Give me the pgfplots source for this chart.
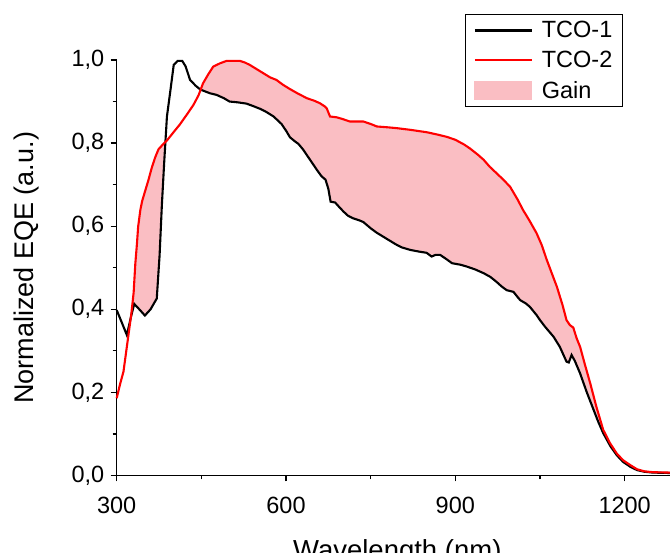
\documentclass[border=0pt]{standalone}
\usepackage{fontspec}
\setmainfont{Liberation Sans}
\usepackage{pgfplots}
\pgfplotsset{compat=1.18}
\usepgfplotslibrary{fillbetween}
\definecolor{gainpink}{RGB}{250,190,195}

\begin{document}
\begin{tikzpicture}
\begin{axis}[
  at={(0,0)}, anchor=south west,
  scale only axis, width=553.1bp, height=415.5bp,
  xmin=300, xmax=1280, ymin=0, ymax=1,
  axis x line*=bottom, axis y line*=left,
  xtick={300,600,900,1200}, ytick={0,0.2,0.4,0.6,0.8,1.0}, minor tick num=1,
  tick align=outside,
  major tick length=6bp, minor tick length=4bp,
  every tick/.style={black, line width=1.2bp},
  axis line style={line width=1.3bp},
  clip=false,
  /pgf/number format/assume math mode=true,
  ticklabel style={font=\fontsize{23.5bp}{27bp}\selectfont},
  x tick label style={/pgf/number format/1000 sep={}, yshift=-12bp},
  y tick label style={/pgf/number format/use comma, /pgf/number format/fixed, /pgf/number format/fixed zerofill, /pgf/number format/precision=1, xshift=-3bp},
  xlabel={Wavelength (nm)},
  xlabel style={at={(axis description cs:0.5073,-0.201)}, anchor=base, font=\fontsize{27.5bp}{32bp}\selectfont},
  ylabel={Normalized EQE (a.u.)},
  ylabel style={at={(axis description cs:-0.1513,0.5)}, anchor=base, font=\fontsize{27bp}{32bp}\selectfont},
  legend style={at={(axis description cs:0.9153,1.111)}, anchor=north east, draw=black, line width=1.2bp,
    font=\fontsize{23.5bp}{28bp}\selectfont, inner xsep=8bp, inner ysep=5bp, row sep=8bp, column sep=7bp},
  legend cell align=left,
  legend image code/.code={\draw[#1, line width=2.2bp] (0bp,0bp) -- (57bp,0bp);},
]
\addplot[black, line width=2.1bp, name path=A] table {
300 0.398
310 0.365
318 0.338
325 0.38
331 0.413
340 0.40
350 0.385
360 0.40
371 0.426
376 0.53
380 0.65
384 0.75
389 0.864
395 0.925
401 0.988
408 0.998
416 0.998
422 0.985
430 0.952
440 0.938
448 0.929
465 0.92
477 0.916
490 0.908
500 0.90
515 0.898
530 0.895
542 0.889
555 0.882
565 0.875
578 0.864
592 0.846
600 0.83
607 0.814
615 0.805
622 0.798
630 0.785
637 0.771
645 0.755
655 0.735
663 0.72
670 0.712
675 0.69
679 0.659
687 0.657
695 0.645
702 0.635
710 0.625
719 0.619
730 0.614
737 0.61
750 0.595
761 0.584
772 0.575
784 0.565
795 0.556
805 0.549
820 0.543
835 0.539
849 0.536
858 0.527
865 0.531
873 0.531
885 0.52
894 0.511
910 0.507
920 0.503
935 0.496
950 0.487
962 0.478
973 0.466
982 0.455
991 0.446
1003 0.442
1010 0.43
1015 0.422
1025 0.414
1032 0.406
1044 0.386
1050 0.374
1059 0.358
1074 0.334
1085 0.31
1097 0.274
1101 0.272
1106 0.29
1112 0.275
1121 0.246
1133 0.20
1145 0.158
1153 0.13
1162 0.102
1175 0.07
1186 0.049
1197 0.033
1210 0.021
1222 0.013
1235 0.009
1250 0.007
1280 0.006
};
\addlegendentry{TCO-1}
\addplot[red, line width=2.1bp, name path=B] table {
300 0.186
306 0.22
312 0.25
318 0.31
322 0.35
326 0.39
330 0.44
333 0.51
336 0.56
338 0.599
342 0.64
345 0.66
350 0.683
356 0.71
362 0.74
368 0.765
374 0.785
382 0.797
390 0.808
400 0.825
412 0.845
425 0.87
436 0.892
445 0.915
453 0.944
462 0.965
471 0.984
483 0.992
495 0.998
518 0.998
527 0.994
536 0.988
548 0.978
560 0.968
572 0.958
583 0.952
595 0.94
607 0.93
620 0.92
637 0.908
650 0.902
660 0.896
669 0.888
672 0.884
678 0.864
690 0.862
700 0.858
713 0.852
737 0.852
750 0.846
761 0.84
780 0.838
796 0.836
820 0.832
850 0.826
870 0.82
885 0.815
900 0.808
915 0.797
926 0.787
940 0.772
950 0.76
961 0.743
975 0.725
985 0.712
997 0.695
1010 0.665
1020 0.639
1032 0.612
1044 0.583
1053 0.555
1062 0.519
1070 0.49
1080 0.454
1090 0.41
1097 0.374
1103 0.362
1109 0.356
1115 0.33
1121 0.31
1130 0.265
1139 0.222
1150 0.165
1162 0.11
1174 0.078
1186 0.053
1197 0.037
1210 0.025
1222 0.015
1235 0.010
1250 0.008
1280 0.007
};
\addlegendentry{TCO-2}
\addplot[gainpink, draw=none, forget plot] fill between[of=A and B, soft clip={domain=325.6:386.3}];
\addplot[gainpink, draw=none, forget plot] fill between[of=A and B, soft clip={domain=448.7:1280}];
\addlegendimage{legend image code/.code={\fill[gainpink] (0bp,-8.5bp) rectangle (57bp,8.5bp);}}
\addlegendentry{Gain}
\end{axis}
\pgfresetboundingbox
\path[use as bounding box] (-116.7bp,-77.5bp) rectangle (553.3bp,475.5bp);
\end{tikzpicture}
\end{document}
